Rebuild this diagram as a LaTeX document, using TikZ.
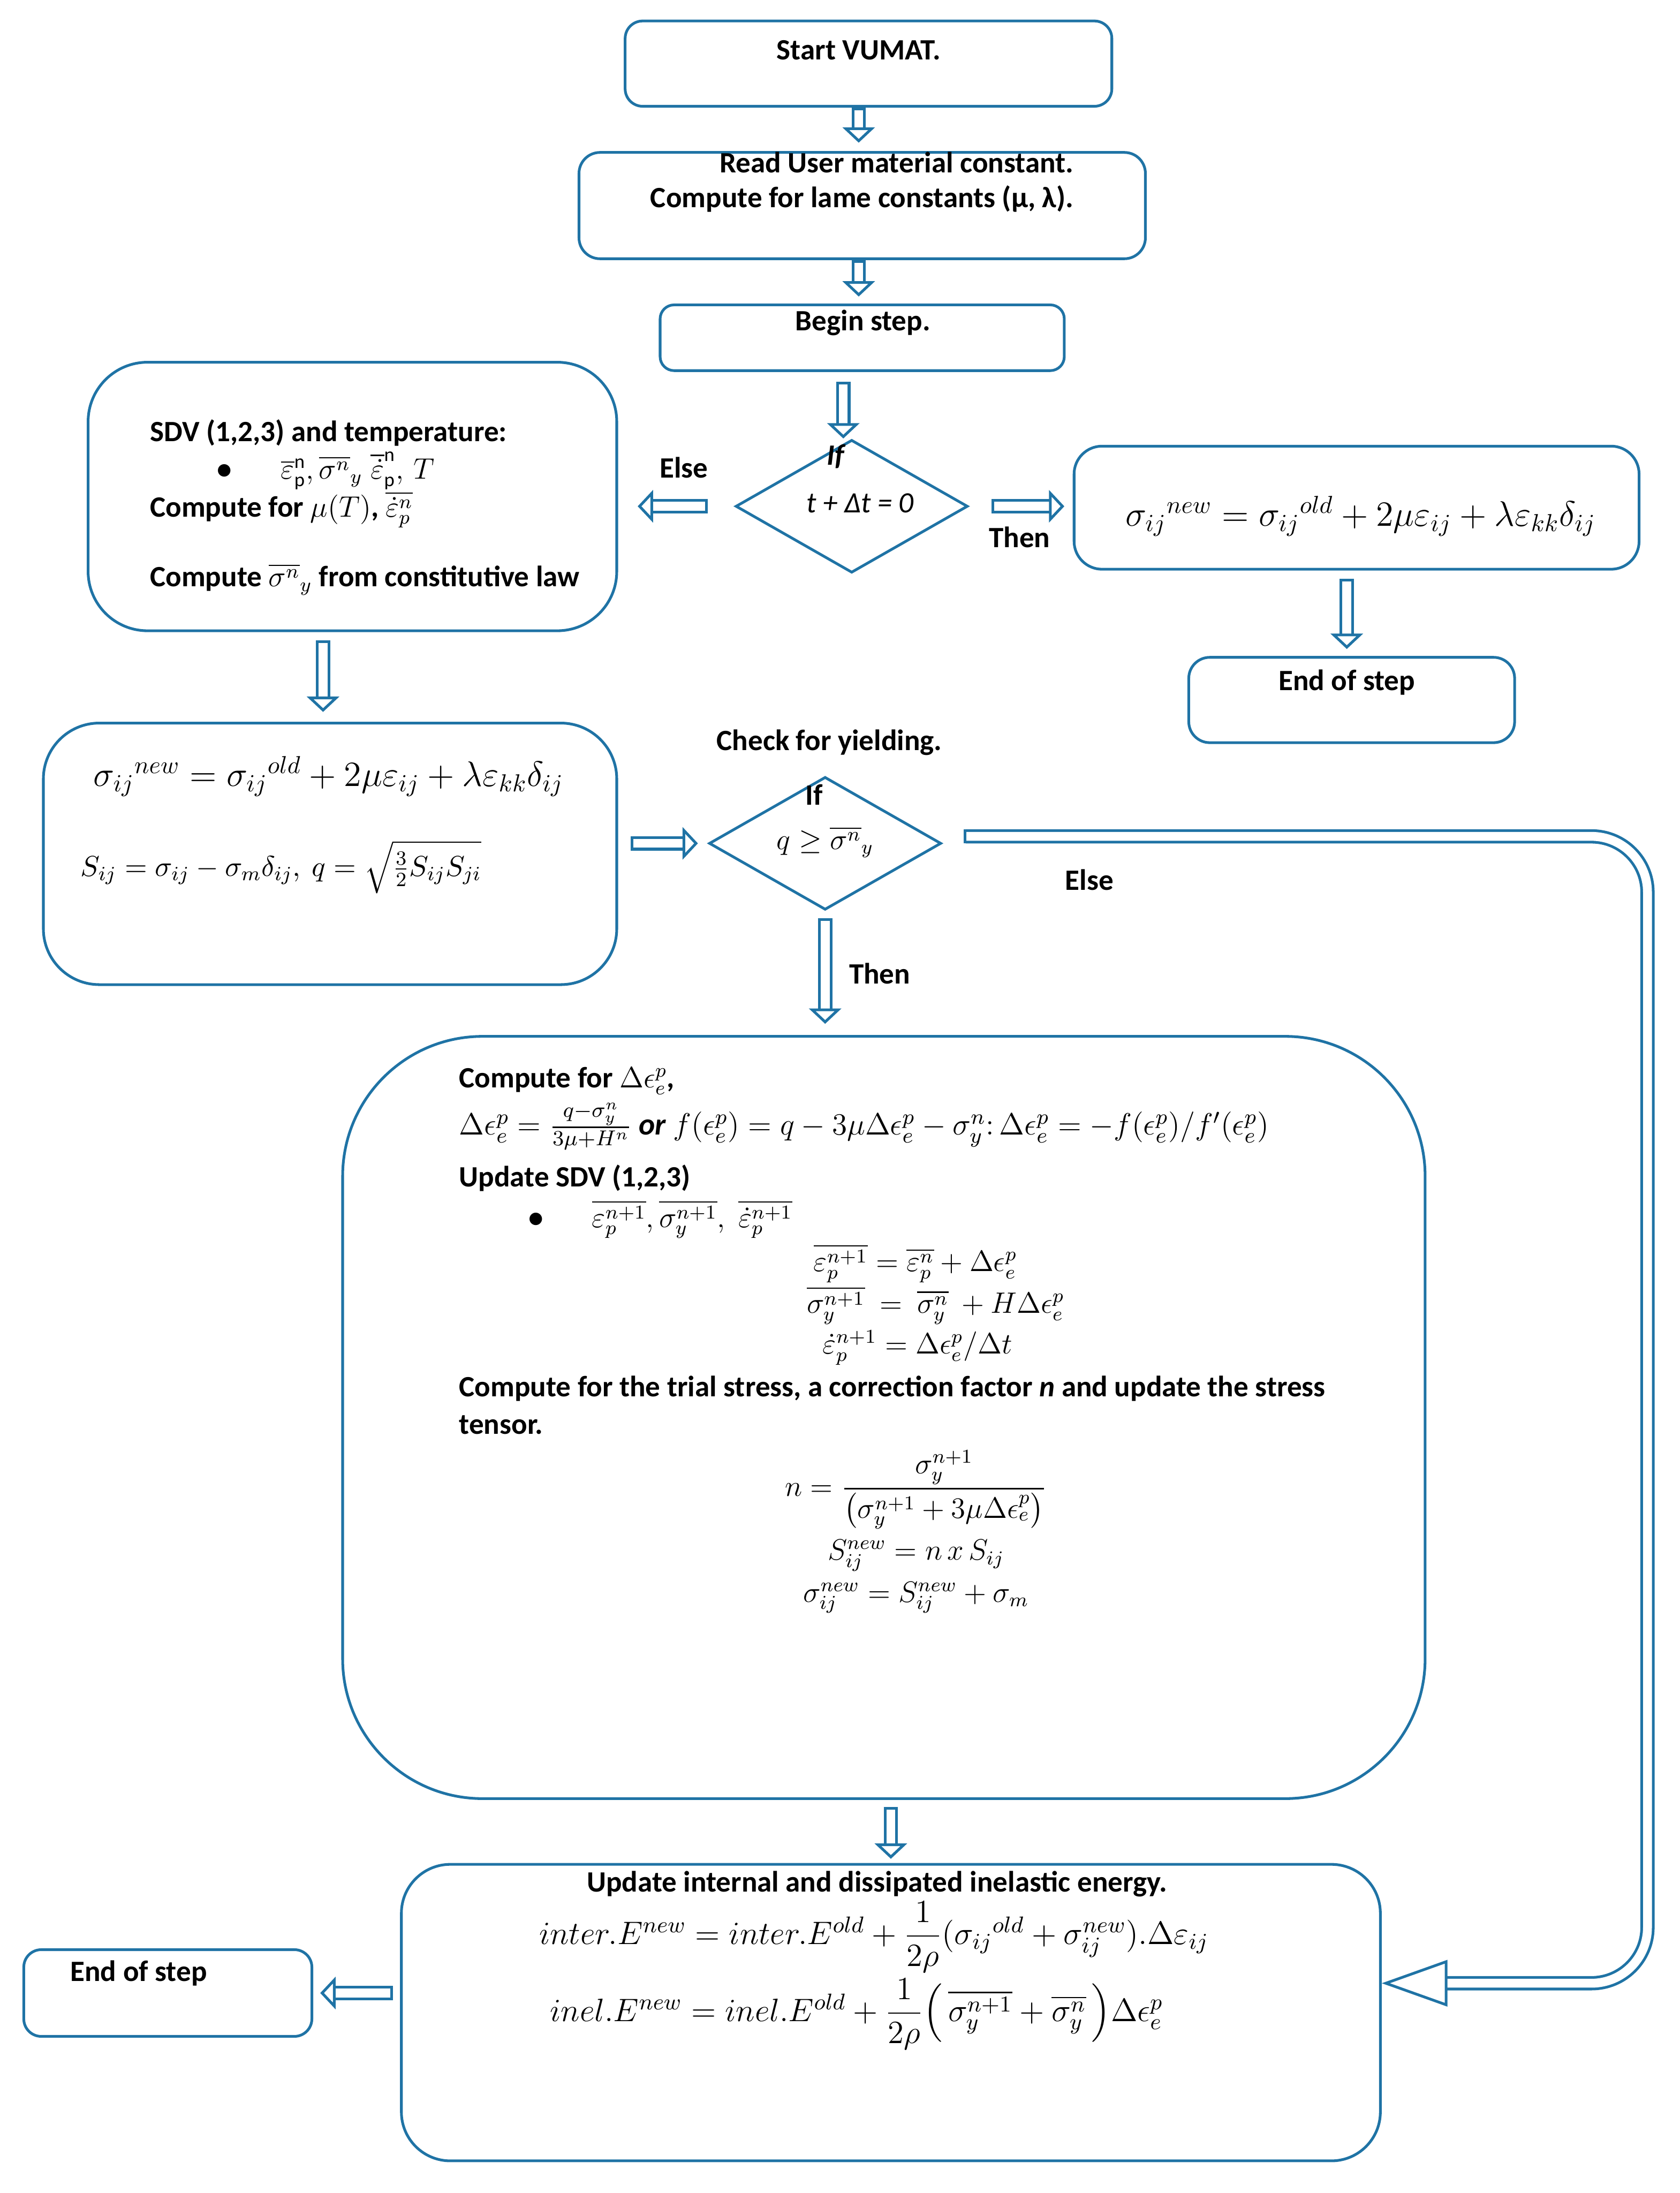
\RequirePackage{fix-cm}
\documentclass[tikz,border=0pt]{standalone}
\usepackage{amsmath,amssymb}
\usepackage{fontspec}
\setmainfont{Carlito}
\usetikzlibrary{shapes.geometric,arrows.meta,positioning,calc}
\definecolor{bleuBox}{RGB}{31,115,165}

\begin{document}
\begin{tikzpicture}[
  font=\fontsize{12}{15}\selectfont\bfseries,
  inner sep=0pt,
  box/.style={draw=bleuBox,line width=1.1pt,rounded corners=#1},
  box/.default=0.3cm,
  test/.style={diamond,draw=bleuBox,line width=1.1pt,inner sep=0pt,
    minimum width=3.32cm,minimum height=1.9cm},
  flow/.style={draw=bleuBox,line width=1.1pt,double=white,double distance=3.6pt,
    {Bar[width=5.8pt,line width=1.1pt]}-{Triangle[open,length=0.22cm,width=0.46cm,line width=1.1pt]}},
  flowlong/.style={draw=bleuBox,line width=1.1pt,double=white,double distance=3.6pt,
    {Bar[width=5.8pt,line width=1.1pt]}-{Triangle[open,length=0.94cm,width=0.66cm,line width=1.1pt]}},
  eqn/.style={font=\fontsize{12}{15}\selectfont},
  eqbig/.style={font=\fontsize{14.4}{17}\selectfont},
  eqnrj/.style={font=\fontsize{13.2}{16}\selectfont}
]
  \useasboundingbox (0,0) rectangle (24.02,-31.36);

  % Boites
  \node[box=0.25cm,minimum width=6.96cm,minimum height=1.22cm] (start) at (12.42,-0.91) {};
  \node[box,minimum width=8.10cm,minimum height=1.52cm] (read) at (12.33,-2.94) {};
  \node[box=0.2cm,minimum width=5.78cm,minimum height=0.94cm] (begin) at (12.33,-4.83) {};
  \node[test] (tzero) at (12.18,-7.24) {};
  \node[box=0.85cm,minimum width=7.56cm,minimum height=3.84cm] (sdv) at (5.04,-7.10) {};
  \node[box=0.4cm,minimum width=8.08cm,minimum height=1.76cm] (elastic) at (19.40,-7.26) {};
  \node[box,minimum width=4.66cm,minimum height=1.22cm] (endA) at (19.33,-10.01) {};
  \node[box=0.8cm,minimum width=8.20cm,minimum height=3.74cm] (trial) at (4.72,-12.21) {};
  \node[test] (yield) at (11.80,-12.06) {};
  \node[box=2cm,minimum width=15.48cm,minimum height=10.90cm] (plastic) at (12.64,-20.27) {};
  \node[box=0.7cm,minimum width=14.00cm,minimum height=4.24cm] (energy) at (12.74,-28.78) {};
  \node[box=0.25cm,minimum width=4.12cm,minimum height=1.24cm] (endB) at (2.40,-28.50) {};

  % Textes du haut
  \node[anchor=base] (startT) at (12.28,-0.85) {Start VUMAT.};
  \node[anchor=base east] (readT1) at (15.36,-2.47) {Read User material constant.};
  \node[anchor=base east] (readT2) at (15.36,-2.97) {Compute for lame constants (μ, λ).};
  \node[anchor=base] (beginT) at (12.34,-4.73) {Begin step.};
  \node[anchor=base] (tzeroIf) at (11.96,-6.65) {\textit{If}};
  \node[anchor=base] (tzeroT) at (12.30,-7.33) {\mdseries\itshape t + Δt = 0};
  \node[anchor=base] (elseA) at (9.78,-6.83) {Else};
  \node[anchor=base] (thenA) at (14.58,-7.83) {Then};

  % Variables d'etat
  \node[anchor=base west] (sdvT1) at (2.14,-6.31) {SDV (1,2,3) and temperature:};
  \node[anchor=base west] (sdvT2) at (3.10,-6.85)
    {\textbullet\hspace{0.7cm}$\overline{\varepsilon}^{\mathrm{n}}_{\mathrm{p}},\overline{\sigma^{n}}_{y}\;
     \overline{\dot{\varepsilon}}^{\mathrm{n}}_{\mathrm{p}},\,T$};
  \node[anchor=base west] (sdvT3) at (2.14,-7.39)
    {Compute for $\mu(T)$, $\overline{\dot{\varepsilon}_{p}^{n}}$};
  \node[anchor=base west] (sdvT4) at (2.14,-8.39)
    {Compute $\overline{\sigma^{n}}_{y}$ from constitutive law};

  % Predicteur elastique
  \node[eqbig] (elasticT) at (19.46,-7.38)
    {$\sigma_{ij}{}^{new}=\sigma_{ij}{}^{old}+2\mu\varepsilon_{ij}+\lambda\varepsilon_{kk}\delta_{ij}$};
  \node[anchor=base] (endAT) at (19.26,-9.87) {End of step};
  \node[eqbig] (trialT1) at (4.70,-11.10)
    {$\sigma_{ij}{}^{new}=\sigma_{ij}{}^{old}+2\mu\varepsilon_{ij}+\lambda\varepsilon_{kk}\delta_{ij}$};
  \node[font=\fontsize{11.7}{15}\selectfont] (trialT2) at (4.02,-12.40)
    {$S_{ij}=\sigma_{ij}-\sigma_{m}\delta_{ij},\ q=\sqrt{\tfrac{3}{2}S_{ij}S_{ji}}$};

  % Test de plasticite
  \node[anchor=base] (checkT) at (11.86,-10.73) {Check for yielding.};
  \node[anchor=base] (yieldIf) at (11.64,-11.51) {If};
  \node[eqn] (yieldT) at (11.80,-12.04) {$q\geq\overline{\sigma^{n}}_{y}$};
  \node[anchor=base] (elseB) at (15.58,-12.73) {Else};
  \node[anchor=base] (thenB) at (12.58,-14.07) {Then};

  % Correction plastique
  \node[anchor=base west] (plasticT1) at (6.56,-15.55) {Compute for $\Delta\epsilon_{e}^{p}$,};
  \node[anchor=base west,font=\fontsize{12.5}{15}\selectfont] (plasticT2) at (6.56,-16.23)
    {$\Delta\epsilon_{e}^{p}=\frac{q-\sigma_{y}^{n}}{3\mu+H^{n}}$ \textbf{\textit{or}}
     $f(\epsilon_{e}^{p})=q-3\mu\Delta\epsilon_{e}^{p}-\sigma_{y}^{n}{:}\,\Delta\epsilon_{e}^{p}
      =-f(\epsilon_{e}^{p})/f'(\epsilon_{e}^{p})$};
  \node[anchor=base west] (plasticT3) at (6.56,-16.97) {Update SDV (1,2,3)};
  \node[anchor=base west] (plasticT4) at (7.55,-17.55)
    {\textbullet\hspace{0.7cm}$\overline{\varepsilon_{p}^{n+1}},\overline{\sigma_{y}^{n+1}},\;
     \overline{\dot{\varepsilon}_{p}^{n+1}}$};
  \node[eqn,anchor=base] (plasticT5) at (13.09,-18.18)
    {$\overline{\varepsilon_{p}^{n+1}}=\overline{\varepsilon_{p}^{n}}+\Delta\epsilon_{e}^{p}$};
  \node[eqn,anchor=base] (plasticT6) at (13.38,-18.78)
    {$\overline{\sigma_{y}^{n+1}}\ =\ \overline{\sigma_{y}^{n}}\ +H\Delta\epsilon_{e}^{p}$};
  \node[eqn,anchor=base] (plasticT7) at (13.12,-19.36)
    {$\dot{\varepsilon}_{p}^{n+1}=\Delta\epsilon_{e}^{p}/\Delta t$};
  \node[anchor=base west] (plasticT8) at (6.56,-19.97)
    {Compute for the trial stress, a correction factor \textit{n} and update the stress};
  \node[anchor=base west] (plasticT9) at (6.56,-20.51) {tensor.};
  \node[eqn] (plasticT10) at (13.10,-21.30)
    {$n=\dfrac{\sigma_{y}^{n+1}}{\left(\sigma_{y}^{n+1}+3\mu\Delta\epsilon_{e}^{p}\right)}$};
  \node[eqn,anchor=base] (plasticT11) at (13.10,-22.31) {$S_{ij}^{new}=n\,x\,S_{ij}$};
  \node[eqn,anchor=base] (plasticT12) at (13.10,-22.91)
    {$\sigma_{ij}^{new}=S_{ij}^{new}+\sigma_{m}$};

  % Energies
  \node[anchor=base] (energyT1) at (12.54,-27.05) {Update internal and dissipated inelastic energy.};
  \node[eqnrj] (energyT2) at (12.50,-27.70)
    {$inter.E^{new}=inter.E^{old}+\dfrac{1}{2\rho}(\sigma_{ij}{}^{old}+\sigma_{ij}^{new}).\Delta\varepsilon_{ij}$};
  \node[eqnrj] (energyT3) at (12.25,-28.80)
    {$inel.E^{new}=inel.E^{old}+\dfrac{1}{2\rho}\Big(\,\overline{\sigma_{y}^{n+1}}+\overline{\sigma_{y}^{n}}\,\Big)\Delta\epsilon_{e}^{p}$};
  \node[anchor=base west] (endBT) at (1.00,-28.33) {End of step};

  % Fleches
  \draw[flow,shorten >=0.12cm] (startT |- start.south) -- (startT |- read.north);
  \draw[flow,shorten >=0.1cm] (startT |- read.south) -- (startT |- begin.north);
  \draw[flow,shorten <=0.14cm] ([xshift=-0.12cm]tzero.north |- begin.south) -- ([xshift=-0.12cm]tzero.north);
  \draw[flow,shorten <=0.38cm,shorten >=0.28cm] (tzero.west) -- (tzero.west -| sdv.east);
  \draw[flow,shorten <=0.32cm,shorten >=0.12cm] (tzero.east) -- (tzero.east -| elastic.west);
  \draw[flow,shorten <=0.12cm,shorten >=0.1cm] (endAT |- elastic.south) -- (endAT |- endA.north);
  \draw[flow,shorten <=0.12cm,shorten >=0.14cm] ([xshift=-0.1cm]trial.north |- sdv.south) -- ([xshift=-0.1cm]trial.north);
  \draw[flow,shorten <=0.18cm,shorten >=0.14cm] (yield.west -| trial.east) -- (yield.west);
  \draw[flow,shorten <=0.1cm,shorten >=0.16cm] (yield.south) -- (yield.south |- plastic.north);
  \draw[flow,shorten <=0.1cm,shorten >=0.06cm] (energy.north |- plastic.south) -- (energy.north);
  \draw[flow,shorten <=0.1cm,shorten >=0.1cm] (endB.east -| energy.west) -- (endB.east);
  \coordinate (elseTurn) at (23.56,-28.36);
  \draw[flowlong,rounded corners=0.8cm,shorten <=0.3cm]
    ([yshift=0.1cm]yield.east) -| (elseTurn) -- (elseTurn -| energy.east);
\end{tikzpicture}
\end{document}
